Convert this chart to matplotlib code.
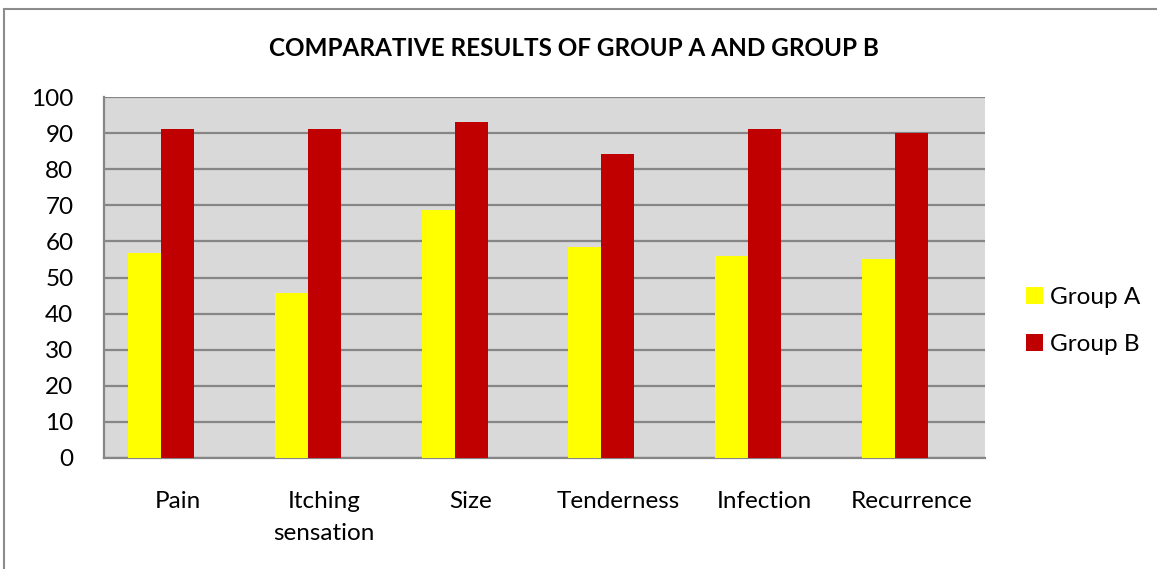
import matplotlib
matplotlib.use('Agg')
import matplotlib.pyplot as plt
from matplotlib.patches import Rectangle
import numpy as np

categories = ['Pain', 'Itching\nsensation', 'Size', 'Tenderness', 'Infection', 'Recurrence']
group_a = [56.8, 45.7, 68.8, 58.4, 56, 55.2]
group_b = [91.2, 91.2, 93.2, 84.3, 91.2, 90.1]
y_ticks = list(range(0, 101, 10))

plt.rcParams['font.family'] = ['Lato', 'DejaVu Sans']

fig = plt.figure(figsize=(11.57, 5.69), dpi=100)

# outer chart frame (cut by image edges)
fig.patches.append(Rectangle((4 / 1157, -0.1), 1.2, 1 - 9 / 569 + 0.1,
                             transform=fig.transFigure, fill=False,
                             edgecolor='#8c8c8c', linewidth=1.5))

ax = fig.add_axes([104 / 1157, 1 - 458 / 569, 881 / 1157, 361 / 569])
ax.set_facecolor('#D9D9D9')

x = np.arange(len(categories))
w = 0.225
ax.bar(x - w, group_a, w, align='center', color='#FFFF00', label='Group A', zorder=3)
ax.bar(x, group_b, w, align='center', color='#C00000', label='Group B', zorder=3)

ax.set_xlim(-0.5, len(categories) - 0.5)
ax.set_ylim(0, 100)
ax.set_yticks(y_ticks)
ax.yaxis.grid(True, color='#868686', linewidth=1.6, zorder=1)
ax.set_axisbelow(True)
ax.set_xticks(x)
ax.set_xticklabels(categories, fontsize=17.5, linespacing=1.6)
ax.tick_params(axis='x', length=0, pad=24)
ax.tick_params(axis='y', length=0, pad=22, labelsize=17.5)

for s in ['top', 'right']:
    ax.spines[s].set_visible(False)
for s in ['left', 'bottom']:
    ax.spines[s].set_color('#868686')
    ax.spines[s].set_linewidth(1.6)

fig.text(574 / 1157, 1 - 48 / 569, 'COMPARATIVE RESULTS OF GROUP A AND GROUP B',
         ha='center', va='center', fontsize=17.5, fontweight='bold')

fig.legend(loc='center left', bbox_to_anchor=(1004 / 1157, 1 - 321 / 569),
           frameon=False, fontsize=17.5, handlelength=0.7, handleheight=0.7,
           handletextpad=0.3, labelspacing=1.05)

fig.savefig('out.png', dpi=100)
